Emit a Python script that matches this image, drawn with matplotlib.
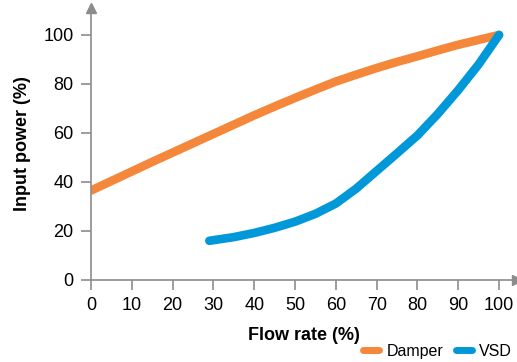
import numpy as np
import matplotlib.pyplot as plt

plt.rcParams['font.family'] = ['Liberation Sans', 'DejaVu Sans']

# flow rate (%) vs input power (%)
damper_flow = [0, 5, 10, 15, 20, 25, 30, 35, 40, 45, 50, 55, 60, 65, 70, 75, 80, 85, 90, 95, 100]
damper_power = [36.5, 40.4, 44.3, 48.2, 52, 55.8, 59.6, 63.4, 67.2, 70.8, 74.3, 77.7, 81,
                83.8, 86.5, 89, 91.3, 93.7, 96, 98, 100]
vsd_flow = [29, 35, 40, 45, 50, 55, 60, 65, 70, 75, 80, 85, 90, 95, 100]
vsd_power = [16, 17.5, 19.2, 21.3, 23.8, 27, 31.2, 37.3, 44.5, 51.7, 59, 67.8, 77.5, 88, 100]

orange = '#F5873A'
blue = '#0098D8'
grey = '#8C8C8C'

fig = plt.figure(figsize=(5.17, 3.62), dpi=100)
ax = fig.add_axes([91/517, 82/362, 426/517, 272/362])

ax.plot(damper_flow, damper_power, color=orange, lw=6.2, solid_capstyle='round',
        solid_joinstyle='round', label='Damper')
ax.plot(vsd_flow, vsd_power, color=blue, lw=6.2, solid_capstyle='round',
        solid_joinstyle='round', label='VSD')

ax.set_xlim(0, 104.4)
ax.set_ylim(0, 111)
ax.set_xticks(range(0, 101, 10))
ax.set_yticks(range(0, 101, 20))

for s in ['top', 'right']:
    ax.spines[s].set_visible(False)
for s in ['left', 'bottom']:
    ax.spines[s].set_color(grey)
    ax.spines[s].set_linewidth(1.2)
ax.tick_params(colors=grey, labelcolor='black', labelsize=13, length=7.5, width=1.2)
ax.tick_params(axis='x', pad=5)
ax.tick_params(axis='y', pad=5)

# arrow heads on the axes
ax.plot(1, 0, '>', color=grey, ms=7, transform=ax.get_yaxis_transform(), clip_on=False)
ax.plot(0, 1, '^', color=grey, ms=7, transform=ax.get_xaxis_transform(), clip_on=False)

ax.set_xlabel('Flow rate (%)', fontsize=13, fontweight='bold', labelpad=9)
ax.set_ylabel('Input power (%)', fontsize=13, fontweight='bold', labelpad=9)

leg = fig.legend(loc='lower right', bbox_to_anchor=(1.012, -0.022), ncol=2, frameon=False,
                 fontsize=11.5, handlelength=1.0, columnspacing=0.8, handletextpad=0.45,
                 borderpad=0.2)
for h in leg.legend_handles:
    h.set_linewidth(5)

fig.savefig('out.png', dpi=100)
